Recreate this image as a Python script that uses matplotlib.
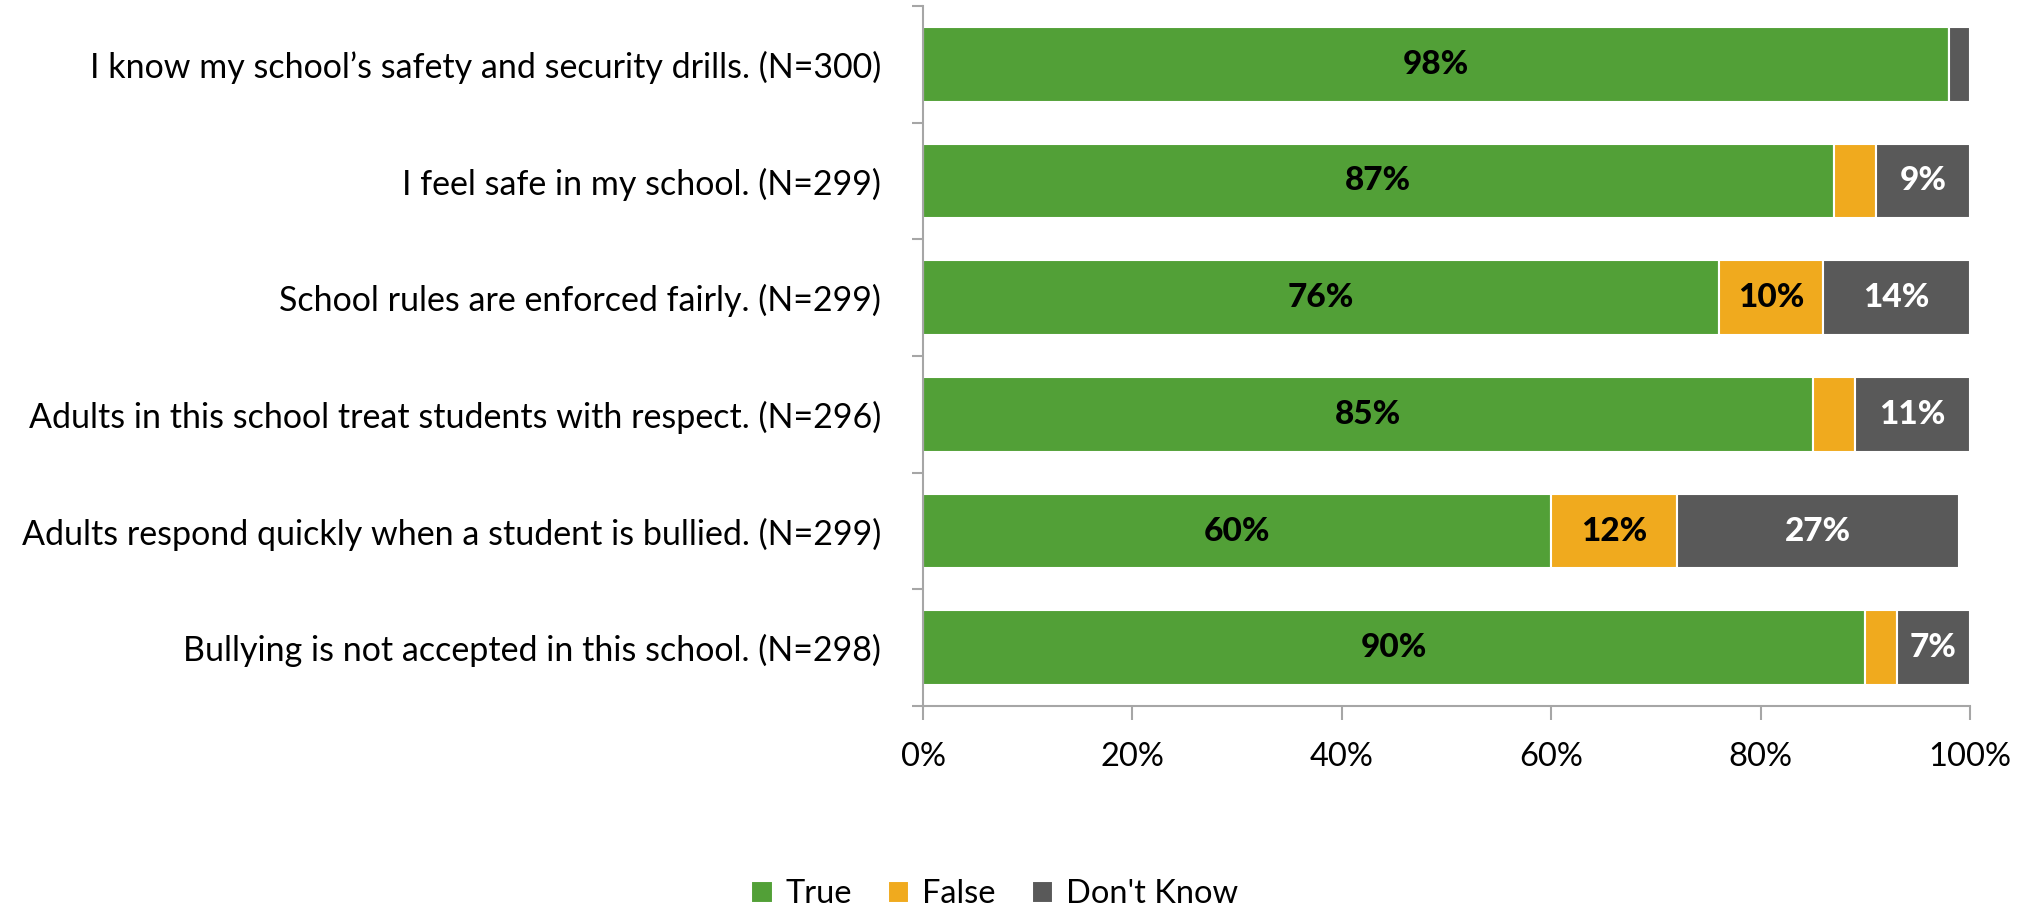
import matplotlib.pyplot as plt
import numpy as np
from matplotlib.ticker import PercentFormatter, FixedLocator

# データ
questions = [
    "I know my school\u2019s safety and security drills. (N=300)",
    "I feel safe in my school. (N=299)",
    "School rules are enforced fairly. (N=299)",
    "Adults in this school treat students with respect. (N=296)",
    "Adults respond quickly when a student is bullied. (N=299)",
    "Bullying is not accepted in this school. (N=298)",
]
true_vals = [98, 87, 76, 85, 60, 90]
false_vals = [0, 4, 10, 4, 12, 3]
dontknow_vals = [2, 9, 14, 11, 27, 7]

series_names = ["True", "False", "Don't Know"]
colors = ["#52A037", "#F0AA1E", "#595959"]
label_colors = ["black", "black", "white"]

plt.rcParams['font.family'] = ['Lato', 'DejaVu Sans']


def main() -> None:
    fig = plt.figure(figsize=(20.3, 9.07), dpi=100)
    ax = fig.add_axes([0.4547, 0.2216, 0.5157, 0.7718])

    y = np.arange(len(questions))
    left = np.zeros(len(questions))
    for name, vals, col, lcol in zip(series_names, [true_vals, false_vals, dontknow_vals], colors, label_colors):
        vals = np.array(vals, dtype=float)
        bars = ax.barh(y, vals, left=left, height=0.64, color=col, edgecolor="white",
                       linewidth=1.5, label=name)
        for b, v in zip(bars, vals):
            if v >= 5:
                ax.text(b.get_x() + b.get_width() / 2, b.get_y() + b.get_height() / 2,
                        f"{v:.0f}%", ha="center", va="center", fontsize=24,
                        fontweight="black", color=lcol)
        left += vals

    ax.set_xlim(0, 100)
    ax.set_ylim(len(questions) - 0.5, -0.5)
    ax.xaxis.set_major_formatter(PercentFormatter(decimals=0))
    ax.set_xticks(np.arange(0, 101, 20))
    ax.set_yticks(y)
    ax.set_yticklabels(questions, fontsize=24.5)
    ax.tick_params(axis="y", length=0, pad=30)
    ax.yaxis.set_minor_locator(FixedLocator(np.arange(-0.5, len(questions), 1)))
    ax.tick_params(axis="y", which="minor", length=8, color="#A6A6A6", width=1.5)
    ax.tick_params(axis="x", labelsize=23.5, length=10, color="#A6A6A6", width=1.5, pad=16)

    for s in ["top", "right"]:
        ax.spines[s].set_visible(False)
    for s in ["left", "bottom"]:
        ax.spines[s].set_color("#A6A6A6")
        ax.spines[s].set_linewidth(1.5)

    fig.legend(loc="lower center", ncol=3, frameon=False, fontsize=23.5,
               bbox_to_anchor=(0.49, -0.035), handlelength=0.65, handleheight=0.65,
               columnspacing=1.1, handletextpad=0.4)

    fig.savefig("out.png", dpi=100)


if __name__ == "__main__":
    main()
